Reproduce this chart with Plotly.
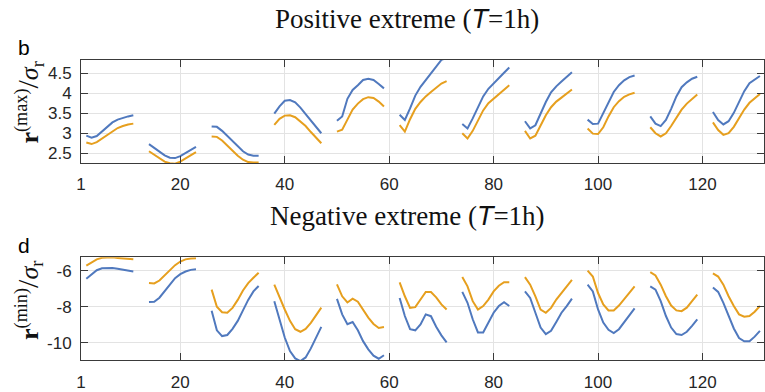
import plotly.graph_objects as go

# segment start hours (each segment spans 10 consecutive hours)
seg_starts = [2, 14, 26, 38, 50, 62, 74, 86, 98, 110, 122]
seg_len = 10

# Positive extreme, r(max)/sigma_r
pos_blue = [
    [2.94, 2.89, 2.93, 3.04, 3.16, 3.27, 3.34, 3.39, 3.42, 3.45],
    [2.73, 2.64, 2.54, 2.45, 2.39, 2.38, 2.43, 2.50, 2.59, 2.66],
    [3.17, 3.16, 3.06, 2.93, 2.79, 2.66, 2.55, 2.47, 2.44, 2.44],
    [3.49, 3.67, 3.81, 3.83, 3.77, 3.64, 3.48, 3.32, 3.15, 3.00],
    [3.31, 3.42, 3.86, 4.08, 4.20, 4.33, 4.36, 4.33, 4.23, 4.12],
    [3.46, 3.33, 3.62, 3.94, 4.16, 4.33, 4.52, 4.67, 4.83, 4.88],
    [3.23, 3.12, 3.37, 3.65, 3.92, 4.11, 4.25, 4.38, 4.51, 4.64],
    [3.30, 3.12, 3.20, 3.49, 3.78, 4.02, 4.17, 4.29, 4.40, 4.52],
    [3.34, 3.23, 3.24, 3.50, 3.78, 4.03, 4.20, 4.32, 4.40, 4.44],
    [3.42, 3.24, 3.18, 3.33, 3.61, 3.92, 4.15, 4.27, 4.36, 4.41],
    [3.53, 3.33, 3.22, 3.30, 3.51, 3.78, 4.05, 4.25, 4.35, 4.43],
]
pos_orange = [
    [2.77, 2.73, 2.78, 2.87, 2.97, 3.06, 3.13, 3.18, 3.22, 3.24],
    [2.55, 2.46, 2.37, 2.29, 2.25, 2.24, 2.29, 2.37, 2.46, 2.53],
    [2.92, 2.91, 2.82, 2.69, 2.56, 2.44, 2.34, 2.28, 2.27, 2.27],
    [3.21, 3.36, 3.44, 3.45, 3.40, 3.30, 3.18, 3.03, 2.89, 2.75],
    [3.04, 3.09, 3.34, 3.59, 3.74, 3.85, 3.90, 3.88, 3.79, 3.67],
    [3.20, 3.04, 3.35, 3.61, 3.78, 3.92, 4.03, 4.13, 4.24, 4.30],
    [3.00, 2.87, 3.06, 3.33, 3.57, 3.75, 3.86, 3.97, 4.08, 4.20],
    [3.06, 2.87, 2.94, 3.18, 3.45, 3.65, 3.79, 3.89, 3.99, 4.09],
    [3.12, 2.99, 2.98, 3.15, 3.42, 3.65, 3.80, 3.91, 3.97, 4.01],
    [3.15, 3.00, 2.92, 3.00, 3.18, 3.39, 3.59, 3.74, 3.86, 3.97],
    [3.27, 3.08, 2.96, 3.00, 3.16, 3.37, 3.59, 3.76, 3.88, 3.98],
]

# Negative extreme, r(min)/sigma_r
neg_blue = [
    [-6.45, -6.22, -5.98, -5.87, -5.85, -5.86, -5.90, -5.95, -6.00, -6.05],
    [-7.73, -7.72, -7.50, -7.15, -6.75, -6.42, -6.20, -6.05, -5.96, -5.92],
    [-8.22, -9.30, -9.62, -9.56, -9.22, -8.78, -8.20, -7.62, -7.15, -6.85],
    [-7.69, -8.70, -9.70, -10.45, -10.85, -11.00, -10.80, -10.30, -9.72, -9.11],
    [-7.56, -8.42, -8.96, -8.84, -9.30, -9.90, -10.35, -10.70, -10.87, -10.68],
    [-7.51, -8.51, -9.24, -9.30, -8.98, -8.42, -8.52, -9.10, -9.58, -9.97],
    [-7.18, -7.78, -8.69, -9.42, -9.42, -8.87, -8.33, -7.96, -7.75, -7.96],
    [-7.15, -7.51, -8.33, -9.15, -9.51, -9.33, -8.84, -8.33, -7.96, -7.55],
    [-6.78, -7.15, -8.15, -8.87, -9.27, -9.45, -9.24, -8.87, -8.51, -8.09],
    [-6.87, -7.05, -7.69, -8.51, -9.15, -9.51, -9.56, -9.38, -9.05, -8.69],
    [-6.93, -7.18, -7.78, -8.51, -9.20, -9.73, -9.91, -9.91, -9.65, -9.33],
]
neg_orange = [
    [-5.73, -5.55, -5.38, -5.29, -5.26, -5.27, -5.30, -5.33, -5.36, -5.38],
    [-6.69, -6.71, -6.55, -6.28, -5.98, -5.70, -5.50, -5.38, -5.33, -5.32],
    [-7.05, -8.00, -8.30, -8.33, -8.06, -7.62, -7.10, -6.69, -6.40, -6.12],
    [-6.78, -7.51, -8.15, -8.78, -9.24, -9.38, -9.22, -8.89, -8.49, -8.05],
    [-6.76, -7.42, -7.76, -7.55, -7.72, -8.15, -8.60, -8.95, -9.17, -9.12],
    [-6.65, -7.42, -8.06, -8.02, -7.60, -7.18, -7.18, -7.48, -7.87, -8.15],
    [-6.36, -6.87, -7.69, -8.15, -7.96, -7.60, -7.15, -6.84, -6.64, -6.64],
    [-6.36, -6.78, -7.42, -8.15, -8.33, -8.06, -7.60, -7.24, -6.87, -6.51],
    [-6.00, -6.33, -7.24, -7.87, -8.20, -8.20, -7.93, -7.56, -7.24, -6.87],
    [-6.09, -6.27, -6.78, -7.42, -7.93, -8.20, -8.24, -8.05, -7.69, -7.33],
    [-6.15, -6.33, -6.78, -7.42, -7.96, -8.42, -8.55, -8.51, -8.27, -7.96],
]

x_ticks = [1, 20, 40, 60, 80, 100, 120]
pos_yticks = [2.5, 3, 3.5, 4, 4.5]
neg_yticks = [-10, -8, -6]

BLUE = "#5079BE"
ORANGE = "#E69F1E"


def flatten(segs):
    xs, ys = [], []
    for s, vals in zip(seg_starts, segs):
        xs.extend(range(s, s + seg_len))
        ys.extend(vals)
        xs.append(None)
        ys.append(None)
    return xs, ys


fig = go.Figure()
for segs, col, xa, ya in [
    (pos_blue, BLUE, "x", "y"),
    (pos_orange, ORANGE, "x", "y"),
    (neg_blue, BLUE, "x2", "y2"),
    (neg_orange, ORANGE, "x2", "y2"),
]:
    xs, ys = flatten(segs)
    fig.add_trace(go.Scatter(x=xs, y=ys, mode="lines", xaxis=xa, yaxis=ya,
                             line=dict(color=col, width=2), connectgaps=False,
                             showlegend=False, hoverinfo="skip"))

W, H = 765, 392
x_dom = [76.7 / W, 1.0]
xr = [1, 1 + (W - 76.7) / 5.263]

axis_common = dict(showline=True, linecolor="#3a3a3a", linewidth=1.2, mirror="ticks",
                   ticks="inside", ticklen=7, tickcolor="#3a3a3a", tickwidth=1,
                   showgrid=True, gridcolor="#e3e3e3", gridwidth=1, zeroline=False,
                   tickfont=dict(family="Liberation Sans, Arial", size=17, color="#262626"))

fig.update_layout(
    width=W, height=H, margin=dict(l=0, r=0, t=0, b=0),
    paper_bgcolor="white", plot_bgcolor="white",
    xaxis=dict(domain=x_dom, range=xr, anchor="y", tickvals=x_ticks,
               ticktext=[str(v) for v in x_ticks], ticklabelstandoff=6, **axis_common),
    yaxis=dict(domain=[1 - 165 / H, 1 - 60.7 / H], range=[2.26, 4.83], anchor="x",
               tickvals=pos_yticks, ticktext=["2.5", "3", "3.5", "4", "4.5"],
               ticklabelstandoff=5, **axis_common),
    xaxis2=dict(domain=x_dom, range=xr, anchor="y2", tickvals=x_ticks,
                ticktext=[str(v) for v in x_ticks], ticklabelstandoff=6, **axis_common),
    yaxis2=dict(domain=[1 - 365 / H, 1 - 260.7 / H], range=[-10.96, -5.27], anchor="x2",
                tickvals=neg_yticks, ticktext=["-10", "-8", "-6"],
                ticklabelstandoff=5, **axis_common),
)

serif = "Liberation Serif, DejaVu Serif, serif"
T_it = "(<i><span style='font-family:Liberation Sans, Arial'>T</span></i>=1h)"
ann = [
    dict(text="Positive extreme " + T_it, x=405 / W, y=1 - 19 / H,
         font=dict(family=serif, size=27, color="#111")),
    dict(text="Negative extreme " + T_it, x=406 / W, y=1 - 219 / H,
         font=dict(family=serif, size=27, color="#111")),
    dict(text="b", x=19 / W, y=1 - 48 / H,
         font=dict(family="Liberation Sans, Arial", size=21, color="#000")),
    dict(text="d", x=19 / W, y=1 - 249 / H,
         font=dict(family="Liberation Sans, Arial", size=21, color="#000")),
    dict(text="<b>r</b><sup>(max)</sup><span style='font-size:30px'>/</span><i>σ</i><sub>r</sub>",
         x=24 / W, y=1 - 104 / H,
         textangle=-90, font=dict(family=serif, size=26, color="#111")),
    dict(text="<b>r</b><sup>(min)</sup><span style='font-size:30px'>/</span><i>σ</i><sub>r</sub>",
         x=24 / W, y=1 - 304 / H,
         textangle=-90, font=dict(family=serif, size=26, color="#111")),
]
for a in ann:
    a.update(xref="paper", yref="paper", showarrow=False, xanchor="center", yanchor="middle")
fig.update_layout(annotations=ann)

fig.write_html("out.html")
